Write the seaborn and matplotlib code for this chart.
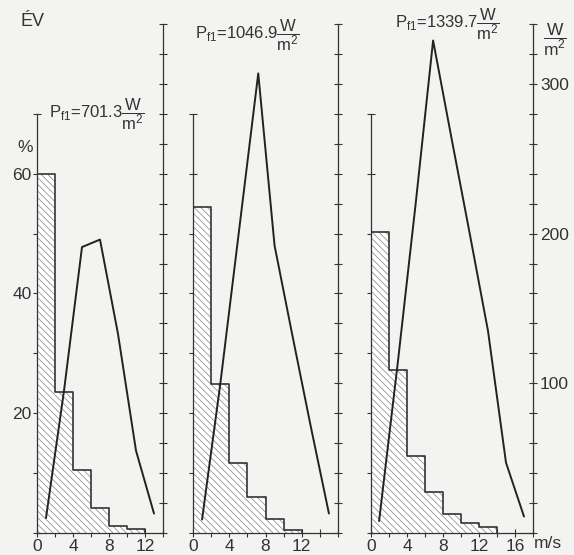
import numpy as np
import pandas as pd
import matplotlib
matplotlib.use("Agg")
import matplotlib.pyplot as plt
import seaborn as sns

# ---------------------------------------------------------
# data
# ---------------------------------------------------------
TITLES = ["701.3", "1046.9", "1339.7"]
X_MAX = [14, 16, 18]
X_LABEL_MAX = [12, 12, 16]

# wind speed distribution (%), 2 m/s classes starting at 0
PCT_1 = [60.0, 23.5, 10.5, 4.2, 1.2, 0.6]
PCT_2 = [54.5, 24.9, 11.7, 6.0, 2.4, 0.5]
PCT_3 = [50.2, 27.3, 12.9, 6.9, 3.1, 1.7, 1.0]

# power density curve (W/m2) against wind speed (m/s)
V_1 = [1, 3, 5, 7, 9, 11, 13]
P_1 = [10, 95, 191, 196, 133, 55, 13]
V_2 = [1, 3, 5, 7.2, 9, 11, 13, 15]
P_2 = [9, 99, 198, 307, 192, 131, 71, 13]
V_3 = [0.9, 3, 5, 6.9, 9, 11, 13, 15, 17]
P_3 = [8, 115, 222, 329, 262, 199, 135, 47, 11]

PCT = [PCT_1, PCT_2, PCT_3]
V = [V_1, V_2, V_3]
P = [P_1, P_2, P_3]

# ---------------------------------------------------------
# style
# ---------------------------------------------------------
sns.set_style("ticks")
plt.rcParams["font.family"] = ["Liberation Sans", "DejaVu Sans"]
plt.rcParams["mathtext.fontset"] = "custom"
plt.rcParams["mathtext.rm"] = "Liberation Sans"
plt.rcParams["mathtext.it"] = "Liberation Sans"
plt.rcParams["mathtext.default"] = "regular"
plt.rcParams["hatch.linewidth"] = 0.55

INK = "#333333"
BG = "#f3f3f1"
W, H = 574, 555

fig = plt.figure(figsize=(W / 100, H / 100), dpi=100, facecolor=BG)


def fx(x):
    return x / W


def fy(y):
    return 1 - y / H


# panel pixel boxes: left, right ; shared bottom/top
LEFTS = [37, 193, 371]
RIGHTS = [163, 338, 533]
BOTTOM, TOP = 533, 24

for i in range(3):
    ax = fig.add_axes([fx(LEFTS[i]), fy(BOTTOM), (RIGHTS[i] - LEFTS[i]) / W,
                       (BOTTOM - TOP) / H])
    ax.set_facecolor("none")
    pct = PCT[i]
    edges = [2 * k for k in range(len(pct) + 1)]
    hist_df = pd.DataFrame({"speed": [e + 1 for e in edges[:-1]], "pct": pct})

    sns.histplot(data=hist_df, x="speed", weights="pct", bins=edges, ax=ax,
                 stat="count", color="white", alpha=1, linewidth=0)
    for patch in ax.patches:
        patch.set_hatch("\\\\\\\\\\")
        patch.set_edgecolor("#8c8c8c")
        patch.set_linewidth(0)

    # step outline of the histogram
    step_x = edges + [edges[-1]]
    step_y = pct + [pct[-1], 0]
    sns.lineplot(x=step_x, y=step_y, ax=ax, drawstyle="steps-post", color=INK,
                 linewidth=1.2, estimator=None, sort=False)

    ax.set_xlim(0, X_MAX[i])
    ax.set_ylim(0, 85)
    ax.set_xlabel("")
    ax.set_ylabel("")
    for s in ["top", "right"]:
        ax.spines[s].set_visible(False)
    for s in ["left", "bottom"]:
        ax.spines[s].set_color(INK)
        ax.spines[s].set_linewidth(0.9)
    ax.spines["left"].set_bounds(0, 70)
    ax.set_yticks(np.arange(0, 71, 10))
    if i == 0:
        ax.set_yticklabels(["", "", "20", "", "40", "", "60", ""])
    else:
        ax.set_yticklabels([])
    xt = list(range(0, X_MAX[i] + 1, 2))
    ax.set_xticks(xt)
    ax.set_xticklabels([str(t) if t % 4 == 0 and t <= X_LABEL_MAX[i] else ""
                        for t in xt])
    ax.tick_params(direction="inout", length=6, width=0.8, color=INK,
                   labelcolor=INK, labelsize=12.5, pad=1)

    ax2 = ax.twinx()
    sns.lineplot(x=V[i], y=P[i], ax=ax2, color="#222222", linewidth=1.4,
                 estimator=None, sort=False)
    ax2.set_ylim(0, 340)
    ax2.set_xlim(0, X_MAX[i])
    ax2.set_ylabel("")
    for s in ["top", "left", "bottom"]:
        ax2.spines[s].set_visible(False)
    ax2.spines["right"].set_color(INK)
    ax2.spines["right"].set_linewidth(0.9)
    yt = list(range(0, 341, 20))
    ax2.set_yticks(yt)
    if i == 2:
        ax2.set_yticklabels([str(t) if t in (100, 200, 300) else "" for t in yt])
    else:
        ax2.set_yticklabels([])
    ax2.tick_params(direction="inout", length=6, width=0.8, color=INK,
                    labelcolor=INK, labelsize=12.5, pad=2)

# titles
TITLE_POS = [(97, 114), (247, 35), (447, 24)]
for t, (tx, ty) in zip(TITLES, TITLE_POS):
    fig.text(fx(tx), fy(ty), r"$P_{f1}$=" + t + r"$\dfrac{W}{m^2}$", ha="center",
             va="center", fontsize=12, color=INK)

fig.text(fx(33), fy(21), "ÉV", ha="center", va="center", fontsize=13, color=INK)
fig.text(fx(25), fy(147), "%", ha="center", va="center", fontsize=12.5, color=INK)
fig.text(fx(555), fy(40), r"$\dfrac{W}{m^2}$", ha="center", va="center",
         fontsize=12.5, color=INK)
fig.text(fx(548), fy(544), "m/s", ha="center", va="center", fontsize=12.5, color=INK)

fig.savefig("out.png", dpi=100, facecolor=BG)
